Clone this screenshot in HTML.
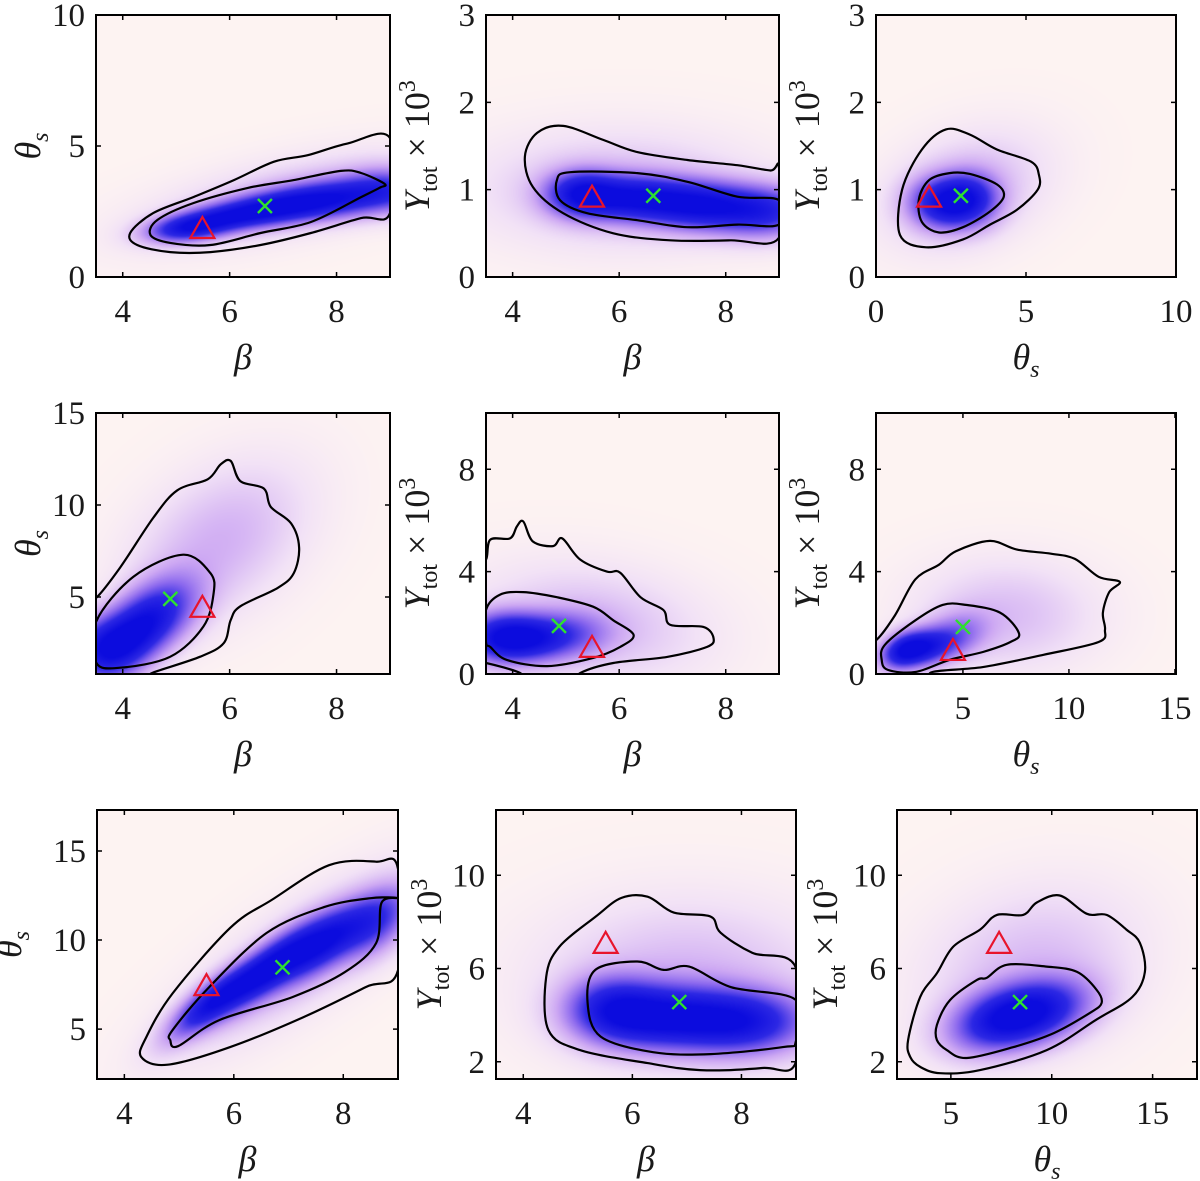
<!DOCTYPE html>
<html><head><meta charset="utf-8"><style>
html,body{margin:0;padding:0;background:#fff;}
#wrap{position:relative;width:1200px;height:1181px;overflow:hidden;}
canvas,svg{position:absolute;left:0;top:0;}
text{font-family:"Liberation Serif",serif;fill:#1a1a1a;}
</style></head><body>
<div id="wrap">
<canvas id="cv" width="1200" height="1181"></canvas>
<svg id="sv" width="1200" height="1181" xmlns="http://www.w3.org/2000/svg" font-family="Liberation Serif, serif"></svg>
</div>
<script>
// ---- data ----
const p1Outer=[[9,5.3],[8.21,5.1],[7.46,4.65],[6.83,4.4],[6.08,3.7],[5.32,3.05],[4.57,2.44],[4.14,1.68],[4.27,1.22],[4.89,0.95],[5.64,0.95],[6.58,1.22],[7.52,1.68],[8.46,2.25],[9,2.44]];
const p1Inner=[[8.9,3.55],[8.46,3.97],[8.08,4.05],[7.2,3.7],[6.34,3.4],[5.32,2.82],[4.65,2.18],[4.52,1.6],[4.89,1.3],[5.64,1.22],[6.58,1.68],[7.52,2.1],[8.46,3.05],[8.8,3.4]];
const p2Outer=[[9,1.25],[8.84,1.22],[8.22,1.28],[7.28,1.34],[6.34,1.43],[5.7,1.57],[4.95,1.73],[4.46,1.65],[4.23,1.38],[4.38,1.03],[4.95,0.73],[5.89,0.5],[6.96,0.42],[8.09,0.42],[9,0.45]];
const p2Inner=[[9,0.88],[8.22,0.92],[7.28,1.09],[6.34,1.19],[5.08,1.2],[4.83,1.11],[4.89,0.88],[5.4,0.73],[6.34,0.65],[7.28,0.57],[8.22,0.6],[9,0.6]];
const p3Outer=[[0.8,0.48],[0.87,1.0],[1.53,1.46],[2.33,1.69],[3.13,1.63],[4.03,1.46],[5.17,1.32],[5.43,1.17],[5.39,1.0],[4.7,0.77],[3.8,0.6],[2.9,0.43],[1.67,0.34]];
const p3Inner=[[1.43,0.89],[1.77,1.11],[2.45,1.19],[3.13,1.18],[4.03,1.06],[4.26,0.92],[3.8,0.75],[2.9,0.57],[2.1,0.51],[1.53,0.63]];
const p4Outer=[[3.3,4.95],[3.5,4.95],[3.95,6.6],[4.57,9.3],[5.02,10.8],[5.59,11.4],[5.83,12.2],[6.02,12.4],[6.2,11.3],[6.64,10.9],[6.77,9.9],[7.15,9.0],[7.3,7.7],[7.2,6.3],[6.9,5.5],[6.2,4.5],[6.02,3.75],[5.89,2.5],[5.45,1.76],[4.57,0.9],[4.3,0.5],[3.3,0.5]];
const p4Inner=[[3.5,3.65],[4.2,6.1],[5.13,7.3],[5.64,6.3],[5.7,5.2],[5.51,3.4],[4.89,1.76],[3.95,1.16],[3.5,1.45]];
const p5Outer=[[3.5,4.47],[3.58,5.25],[3.95,5.3],[4.08,5.77],[4.2,5.96],[4.38,5.18],[4.76,5.0],[4.93,5.3],[5.27,4.47],[5.77,4.0],[6.02,3.96],[6.4,3.0],[6.83,2.5],[6.96,1.92],[7.58,1.84],[7.77,1.41],[7.65,1.06],[6.9,0.67],[5.89,0.43],[5.27,0.04],[5.2,-0.3],[4.14,-0.3],[4.14,0.04],[3.5,0.43],[3.3,0.43],[3.3,4.47]];
const p5Inner=[[3.5,2.5],[3.76,3.1],[4.2,3.2],[4.83,3.0],[5.51,2.63],[5.89,2.1],[6.27,1.53],[6.02,1.06],[5.51,0.63],[4.65,0.31],[3.89,0.55],[3.58,1.06],[3.5,1.25]];
const p6Outer=[[0.92,1.33],[1.8,2.3],[2.76,3.7],[3.87,4.27],[4.67,4.8],[6.27,5.2],[7.55,4.86],[9.15,4.7],[10.28,4.5],[11.4,3.8],[12.4,3.6],[11.9,3.2],[11.6,2.4],[11.7,1.73],[11.4,1.25],[8.8,0.75],[5.94,0.27],[3.56,0.08],[3.3,-0.3],[0.5,-0.3],[0.5,1.33]];
const p6Inner=[[1.17,0.55],[1.32,1.14],[2.76,2.1],[4.04,2.7],[5.14,2.7],[6.75,2.4],[7.64,1.6],[7.24,1.25],[5.94,0.86],[4.36,0.55],[2.76,0.08],[1.46,0.16]];
const p7Outer=[[4.31,3.43],[4.4,4.55],[4.88,7.0],[5.94,10.7],[6.69,12.25],[7.74,14.2],[8.6,14.4],[9,14.0],[9,8.3],[8.41,7.36],[7.27,5.67],[5.94,4.0],[4.79,3.0]];
const p7Inner=[[4.84,4.38],[4.88,4.94],[5.55,7.36],[6.6,10.4],[7.65,11.85],[8.5,12.35],[9,12.35],[8.7,12.1],[8.6,9.83],[8.03,8.2],[7.07,6.8],[5.73,5.5],[4.98,4.04]];
const p8Outer=[[9,6.03],[8.2,6.67],[7.62,7.53],[7.43,8.23],[6.76,8.4],[6.28,9.08],[5.8,9.03],[5.33,8.23],[4.66,6.93],[4.42,5.64],[4.46,3.36],[5.04,2.5],[6.28,1.94],[7.24,1.64],[8.38,1.73],[9,2.0]];
const p8Inner=[[9,4.65],[7.81,5.2],[7.04,6.08],[6.57,5.94],[6.09,6.3],[5.32,5.94],[5.18,4.52],[5.42,3.08],[6.38,2.41],[7.43,2.33],[8.76,2.63],[9,2.9]];
const p9Outer=[[2.99,2.2],[2.88,2.93],[3.48,4.78],[4.31,5.8],[5.12,6.94],[6.45,7.67],[7.28,8.3],[8.58,8.3],[9.26,8.83],[10.4,9.13],[11.73,8.35],[12.72,8.3],[13.7,7.67],[14.37,7.1],[14.62,5.86],[14.0,4.78],[12.2,3.8],[9.75,2.5],[6.45,1.64],[4.47,1.51],[3.48,1.78]];
const p9Inner=[[4.31,2.93],[4.31,3.58],[4.96,4.65],[6.29,5.51],[6.78,5.6],[7.77,6.16],[9.75,6.08],[11.24,5.86],[12.23,5.08],[12.47,4.52],[11.9,4.1],[10.1,3.23],[8.1,2.63],[5.79,2.16],[4.8,2.5]];
// red triangles (x,y) and green crosses (x,y) per panel
const trueX=[5.49,5.49,1.77,5.49,5.49,4.53,5.5,5.51,7.39];
const trueY=[1.87,0.92,0.92,4.47,1.06,0.94,7.47,7.1,7.1];
const estX=[6.66,6.64,2.83,4.89,4.87,5.0,6.89,6.86,8.43];
const estY=[2.71,0.93,0.93,4.9,1.88,1.84,8.47,4.56,4.56];
// density mixture components [cx,cy,sx,sy,rho,weight]
const p1Comps=[[5.2,1.85,.5,.35,.3,1],[6.0,2.3,.65,.4,.4,1],[7.0,2.7,.65,.45,.3,1],[8.0,3.0,.65,.5,.2,.9],[9.0,3.3,.55,.55,0,.75],[7,3,1.6,1.1,.6,.2]];
const p2Comps=[[5.3,0.95,.45,.17,0,1],[6.3,0.9,.65,.17,0,1],[7.5,0.82,.65,.18,0,1],[8.7,0.75,.65,.19,0,.9],[6,1.0,1.6,.4,0,.2]];
const p3Comps=[[2.3,0.85,.75,.19,0,1],[3.2,0.9,.65,.2,0,.6],[3,1.0,1.6,.4,.3,.2]];
const p4Comps=[[4.2,3.0,.55,1.4,.5,1],[3.6,2.2,.45,1.1,0,.6],[4.8,4.5,.5,1.3,.3,.35],[5.8,8,1,2.6,.4,.2]];
const p5Comps=[[4.3,1.4,.55,.6,0,1],[3.7,1.4,.45,.65,0,.7],[5.2,1.6,.5,.6,0,.3],[5.5,2,1.3,1.4,-.2,.18]];
const p6Comps=[[3,1.0,1.1,.5,.3,1],[2.2,0.9,.65,.45,.3,.5],[4.8,1.6,1,.6,.2,.3],[7,2.3,2.6,1.3,0,.16]];
const p7Comps=[[5.6,6.5,.5,1.3,.8,1],[6.6,8.3,.55,1.5,.8,1],[7.6,9.8,.55,1.4,.7,1],[8.6,11,.45,1.3,.5,.65],[7.2,9,1.4,3.2,.8,.18]];
const p8Comps=[[6.5,3.9,.8,.9,0,1],[8,3.7,.8,.9,0,1],[5.6,4.3,.55,.9,0,.7],[7,5.5,1.6,2.1,0,.2]];
const p9Comps=[[7.5,3.8,1.7,.9,.3,1],[9.5,4.2,1.7,.9,.3,.8],[9,6,3.2,2.1,.2,.2]];
// axis ranges and ticks
const xRanges=[[3.5,9],[3.5,9],[0,10],[3.5,9],[3.5,9],[0.9,15.05],[3.5,9],[3.5,9],[2.33,17.2]];
const yRanges=[[0,10],[0,3],[0,3],[0.82,15],[0,10.2],[0,10.2],[2.2,17.3],[1.26,12.8],[1.26,12.8]];
const xTicks=[[4,6,8],[4,6,8],[0,5,10],[4,6,8],[4,6,8],[5,10,15],[4,6,8],[4,6,8],[5,10,15]];
const yTicks=[[0,5,10],[0,1,2,3],[0,1,2,3],[5,10,15],[0,4,8],[0,4,8],[5,10,15],[2,6,10],[2,6,10]];
const xLabels=['beta','beta','theta','beta','beta','theta','beta','beta','theta'];
const yLabels=['theta','Y','Y','theta','Y','Y','theta','Y','Y'];
// layout
const boxes=[[96,15,390,277],[486,15,779,277],[876,15,1176,277],[96,413,390,674],[486,413,779,674],[876,413,1176,674],[97,810,398,1079],[496,810,796,1079],[897,810,1197,1079]];
const yLabOff=[56,57,57,56,57,57,76,55,60];
const outers=[p1Outer,p2Outer,p3Outer,p4Outer,p5Outer,p6Outer,p7Outer,p8Outer,p9Outer];
const inners=[p1Inner,p2Inner,p3Inner,p4Inner,p5Inner,p6Inner,p7Inner,p8Inner,p9Inner];
const comps=[p1Comps,p2Comps,p3Comps,p4Comps,p5Comps,p6Comps,p7Comps,p8Comps,p9Comps];

const NS='http://www.w3.org/2000/svg';
const sv=document.getElementById('sv');
const ctx=document.getElementById('cv').getContext('2d');
function mk(tag,attrs,parent){const e=document.createElementNS(NS,tag);for(const k in attrs)e.setAttribute(k,attrs[k]);(parent||sv).appendChild(e);return e;}
const stops=[[0,[253,243,242]],[0.1,[242,226,246]],[0.3,[205,168,243]],[0.5,[140,105,238]],[0.72,[45,40,228]],[1,[12,12,222]]];
function cmap(t){t=Math.max(0,Math.min(1,t));for(let i=1;i<stops.length;i++){if(t<=stops[i][0]){const a=stops[i-1],b=stops[i];const f=(t-a[0])/(b[0]-a[0]);return [0,1,2].map(k=>Math.round(a[1][k]+(b[1][k]-a[1][k])*f));}}return stops[stops.length-1][1];}
function smooth(P){const n=P.length;let d='M'+P[0][0].toFixed(1)+','+P[0][1].toFixed(1);
  for(let i=0;i<n;i++){const p0=P[(i-1+n)%n],p1=P[i],p2=P[(i+1)%n],p3=P[(i+2)%n];
    const c1=[p1[0]+(p2[0]-p0[0])/6,p1[1]+(p2[1]-p0[1])/6],c2=[p2[0]-(p3[0]-p1[0])/6,p2[1]-(p3[1]-p1[1])/6];
    d+='C'+c1.map(v=>v.toFixed(1)).join(',')+' '+c2.map(v=>v.toFixed(1)).join(',')+' '+p2.map(v=>v.toFixed(1)).join(',');}
  return d+'Z';}

boxes.forEach((b,i)=>{
  const [L,T,R,B]=b, xr=xRanges[i], yr=yRanges[i];
  const sx=v=>L+(v-xr[0])/(xr[1]-xr[0])*(R-L);
  const sy=v=>B-(v-yr[0])/(yr[1]-yr[0])*(B-T);
  const W=R-L,H=B-T;const vals=new Float32Array(W*H);let mx=0;
  for(let py=0;py<H;py++)for(let px=0;px<W;px++){
    const x=xr[0]+(px+0.5)/W*(xr[1]-xr[0]), y=yr[1]-(py+0.5)/H*(yr[1]-yr[0]);
    let s=0;for(const c of comps[i]){const dx=(x-c[0])/c[2],dy=(y-c[1])/c[3];const q=(dx*dx-2*c[4]*dx*dy+dy*dy)/(1-c[4]*c[4]);s+=c[5]*Math.exp(-q/2);}
    vals[py*W+px]=s;if(s>mx)mx=s;}
  const img=ctx.createImageData(W,H);
  for(let k=0;k<W*H;k++){const c=cmap(Math.pow(vals[k]/mx,0.75)*1.15);img.data[4*k]=c[0];img.data[4*k+1]=c[1];img.data[4*k+2]=c[2];img.data[4*k+3]=255;}
  ctx.putImageData(img,L,T);
  const g=mk('g',{});
  
  
  const cp=mk('clipPath',{id:'clip'+i},g);mk('rect',{x:L,y:T,width:W,height:H},cp);
  [outers[i],inners[i]].forEach((pts,j)=>{
    const d=smooth(pts.map(p=>[sx(p[0]),sy(p[1])]));
    const p=mk('path',{d:d,fill:'none',stroke:'#000','stroke-width':2.2,'stroke-linejoin':'round','clip-path':'url(#clip'+i+')'},g);
    
    
  });
  const tx=sx(trueX[i]),ty=sy(trueY[i]);
  const tri=mk('polygon',{points:`${tx},${ty-11} ${tx-12},${ty+10} ${tx+12},${ty+10}`,fill:'none',stroke:'#e8142c','stroke-width':2.2},g);
  
  
  const ex=sx(estX[i]),ey=sy(estY[i]);
  const cr=mk('path',{d:`M${ex-7},${ey-7}L${ex+7},${ey+7}M${ex-7},${ey+7}L${ex+7},${ey-7}`,stroke:'#2ee02e','stroke-width':2.4},g);
  
  
  const fr=mk('rect',{x:L,y:T,width:W,height:H,fill:'none',stroke:'#000','stroke-width':2},g);
  
  
  xTicks[i].forEach(v=>{const x=sx(v);
    mk('path',{d:`M${x},${B}v-5M${x},${T}v5`,stroke:'#000','stroke-width':1.5},g);
    const t=mk('text',{x:x,y:B+45,'font-size':33,'font-family':'Liberation Serif, serif','text-anchor':'middle'},g);t.textContent=v;
    
    });
  yTicks[i].forEach(v=>{const y=sy(v);
    mk('path',{d:`M${L},${y}h5M${R},${y}h-5`,stroke:'#000','stroke-width':1.5},g);
    const t=mk('text',{x:L-11,y:y+11,'font-size':33,'font-family':'Liberation Serif, serif','text-anchor':'end'},g);t.textContent=v;
    
    });
  const xl=mk('text',{x:(L+R)/2,y:B+92,'font-size':36,'font-family':'Liberation Serif, serif','font-style':'italic','text-anchor':'middle'},g);
  if(xLabels[i]==='beta'){xl.textContent='β';}else{xl.innerHTML='θ<tspan font-size="24" dy="8">s</tspan>';}
  
  
  const cx=L-yLabOff[i],cy=(T+B)/2;
  const yl=mk('text',{x:cx,y:cy,'font-size':36,'font-family':'Liberation Serif, serif','text-anchor':'middle',transform:`rotate(-90 ${cx} ${cy})`},g);
  if(yLabels[i]==='theta'){yl.innerHTML='<tspan font-style="italic">θ</tspan><tspan font-style="italic" font-size="24" dy="8">s</tspan>';}
  else{yl.innerHTML='<tspan font-style="italic">Y</tspan><tspan font-size="24" dy="8">tot</tspan><tspan dy="-8"> × 10</tspan><tspan font-size="24" dy="-14">3</tspan>';}
  
  
});
</script>
</body></html>
